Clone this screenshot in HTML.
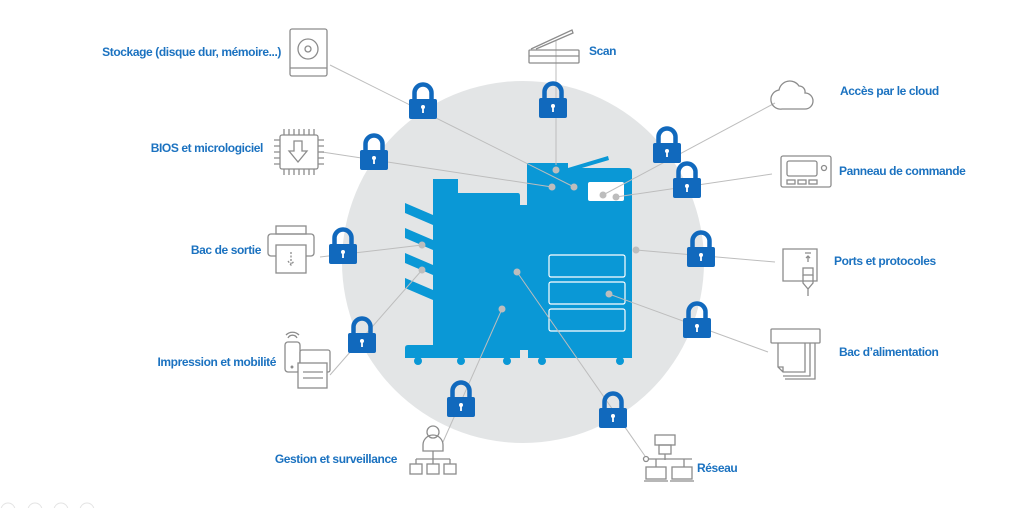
<!DOCTYPE html>
<html><head><meta charset="utf-8"><style>
html,body{margin:0;padding:0;background:#fff;width:1024px;height:508px;overflow:hidden}
text{font-family:"Liberation Sans",sans-serif;font-weight:bold;font-size:12px;fill:#1b72c0;letter-spacing:-0.4px}
</style></head><body>
<svg width="1024" height="508" viewBox="0 0 1024 508" xmlns="http://www.w3.org/2000/svg">
<defs>
<g id="lk">
<path d="M-8.5,-2 V-9 A8.5,8.5 0 0 1 8.5,-9 V-2" fill="none" stroke="#1169bd" stroke-width="4.5"/>
<rect x="-14" y="-3" width="28" height="20" rx="2" fill="#1169bd"/>
<circle cx="0" cy="5" r="2" fill="#fff"/><rect x="-0.9" y="5" width="1.8" height="6" fill="#fff"/>
</g>
</defs>
<circle cx="523" cy="262" r="181" fill="#e3e5e6"/>
<!-- printer -->
<g fill="#0a98d6">
<path d="M433,179 H458 V193 H518 Q520,193 520,196 V205 H527 V163 H568 V168 H628 Q632,168 632,172 V358 H528 V350 H520 V358 H405 V348 Q405,345 408,345 H433 Z"/>
<path d="M568,168 L608,156 L609,160 L575,170 Z"/>
<path d="M405,203 L433,215 L433,225 L405,213 Z"/>
<path d="M405,228 L433,240 L433,250 L405,238 Z"/>
<path d="M405,253 L433,265 L433,275 L405,263 Z"/>
<path d="M405,278 L433,290 L433,300 L405,288 Z"/>
<circle cx="418" cy="361" r="4"/><circle cx="461" cy="361" r="4"/><circle cx="507" cy="361" r="4"/><circle cx="542" cy="361" r="4"/><circle cx="620" cy="361" r="4"/>
</g>
<rect x="588" y="182" width="36" height="19" rx="2" fill="#fff"/>
<g fill="none" stroke="#fff" stroke-width="1.2">
<rect x="549" y="255" width="76" height="22" rx="2"/>
<rect x="549" y="282" width="76" height="22" rx="2"/>
<rect x="549" y="309" width="76" height="22" rx="2"/>
</g>
<!-- connector lines -->
<g stroke="#bdbdbd" stroke-width="1" fill="none">
<line x1="330" y1="65" x2="574" y2="187"/>
<line x1="322" y1="152" x2="552" y2="187"/>
<line x1="556" y1="40" x2="556" y2="165"/>
<line x1="775" y1="103" x2="603" y2="195"/>
<line x1="772" y1="174" x2="616" y2="197"/>
<line x1="775" y1="262" x2="636" y2="250"/>
<line x1="768" y1="352" x2="609" y2="294"/>
<line x1="645" y1="456" x2="517" y2="272"/>
<line x1="443" y1="442" x2="502" y2="309"/>
<line x1="330" y1="375" x2="422" y2="270"/>
<line x1="320" y1="257" x2="422" y2="245"/>
</g>
<!-- dots -->
<g fill="#bdbdbd">
<circle cx="574" cy="187" r="3.5"/><circle cx="552" cy="187" r="3.5"/><circle cx="556" cy="170" r="3.5"/>
<circle cx="603" cy="195" r="3.5"/><circle cx="616" cy="197" r="3.5"/><circle cx="636" cy="250" r="3.5"/>
<circle cx="609" cy="294" r="3.5"/><circle cx="517" cy="272" r="3.5"/><circle cx="502" cy="309" r="3.5"/>
<circle cx="422" cy="270" r="3.5"/><circle cx="422" cy="245" r="3.5"/>
</g>
<!-- locks -->
<use href="#lk" x="423" y="102"/><use href="#lk" x="553" y="101"/><use href="#lk" x="667" y="146"/>
<use href="#lk" x="687" y="181"/><use href="#lk" x="374" y="153"/><use href="#lk" x="343" y="247"/>
<use href="#lk" x="701" y="250"/><use href="#lk" x="697" y="321"/><use href="#lk" x="362" y="336"/>
<use href="#lk" x="461" y="400"/><use href="#lk" x="613" y="411"/>
<!-- icons -->
<g fill="none" stroke="#8c8c8c" stroke-width="1.3">
<rect x="290" y="29" width="37" height="47" rx="2"/><line x1="290" y1="68" x2="327" y2="68"/>
<circle cx="308" cy="49" r="10"/><circle cx="308" cy="49" r="3"/>
<rect x="280" y="135" width="38" height="34" rx="2"/>
<path d="M284,135 v-6 M289,135 v-6 M294,135 v-6 M299,135 v-6 M304,135 v-6 M309,135 v-6 M314,135 v-6 M284,169 v6 M289,169 v6 M294,169 v6 M299,169 v6 M304,169 v6 M309,169 v6 M314,169 v6 M280,140 h-6 M280,146 h-6 M280,152 h-6 M280,158 h-6 M280,164 h-6 M318,140 h6 M318,146 h6 M318,152 h6 M318,158 h6 M318,164 h6"/>
<path d="M294,141 h8 v10 h5 l-9,11 l-9,-11 h5 z"/>
<rect x="529" y="50" width="50" height="13" rx="1"/><line x1="529" y1="56" x2="579" y2="56"/>
<path d="M531,49 L572,30 L573,33 L536,49"/>
<path d="M782,109 H805 A8,8 0 0 0 805,93 A6,6 0 0 0 799,86 A11,11 0 0 0 779,90 A9,9 0 0 0 782,109 Z"/>
<rect x="781" y="156" width="50" height="31" rx="2"/><rect x="787" y="161" width="30" height="15" rx="2"/>
<circle cx="824" cy="168" r="2.5"/><rect x="787" y="180" width="8" height="4"/><rect x="798" y="180" width="8" height="4"/><rect x="809" y="180" width="8" height="4"/>
<path d="M783,249 H817 V281 H783 Z"/><path d="M808,262 v-6 M806,258 l2,-2 l2,2 M805,253 h6"/>
<rect x="803" y="268" width="10" height="7"/><path d="M803,275 v8 l5,6 l5,-6 v-8 M808,289 v7"/>
<rect x="771" y="329" width="49" height="14" rx="1"/>
<path d="M778,343 V367 l5,5 H805 V343 M783,372 v-5 h-5 M810,343 v33 H783 M815,343 v36 H785"/>
<rect x="268" y="234" width="46" height="22" rx="3"/><rect x="276" y="226" width="30" height="8"/>
<rect x="276" y="245" width="30" height="28" fill="#fff"/><path d="M291,252 v12 M288,261 l3,4 l3,-4" stroke-dasharray="2,1.5"/>
<rect x="285" y="342" width="15" height="30" rx="3"/><circle cx="292" cy="367" r="0.8"/>
<path d="M286,335 a9,9 0 0 1 13,0 M288,338 a5,5 0 0 1 9,0"/>
<rect x="300" y="350" width="30" height="22" rx="2" fill="#fff"/><rect x="298" y="363" width="29" height="25" fill="#fff"/>
<path d="M303,372 h20 M303,378 h20"/>
<circle cx="433" cy="432" r="6"/><path d="M423,451 v-6 a10,10 0 0 1 20,0 v6 z"/>
<path d="M433,451 v8 M416,459 h34 M416,459 v5 M433,459 v5 M450,459 v5"/>
<rect x="410" y="464" width="12" height="10"/><rect x="427" y="464" width="12" height="10"/><rect x="444" y="464" width="12" height="10"/>
<rect x="655" y="435" width="20" height="10"/><rect x="659" y="445" width="12" height="9"/>
<path d="M665,454 v6 M648,459 h44 M656,459 v8 M684,459 v8"/><circle cx="646" cy="459" r="2.5"/>
<rect x="646" y="467" width="20" height="12"/><rect x="672" y="467" width="20" height="12"/>
<path d="M644,481 h24 M670,481 h24"/>
</g>
<text x="281" y="56" text-anchor="end">Stockage (disque dur, mémoire...)</text>
<text x="263" y="152" text-anchor="end">BIOS et micrologiciel</text>
<text x="261" y="254" text-anchor="end">Bac de sortie</text>
<text x="276" y="366" text-anchor="end">Impression et mobilité</text>
<text x="397" y="463" text-anchor="end">Gestion et surveillance</text>
<text x="589" y="55">Scan</text>
<text x="840" y="95">Accès par le cloud</text>
<text x="839" y="175">Panneau de commande</text>
<text x="834" y="265">Ports et protocoles</text>
<text x="839" y="356">Bac d’alimentation</text>
<text x="697" y="472">Réseau</text>
<g fill="none" stroke="#e4e4e4"><circle cx="8" cy="510" r="7"/><circle cx="35" cy="510" r="7"/><circle cx="61" cy="510" r="7"/><circle cx="87" cy="510" r="7"/></g>
</svg>
</body></html>
